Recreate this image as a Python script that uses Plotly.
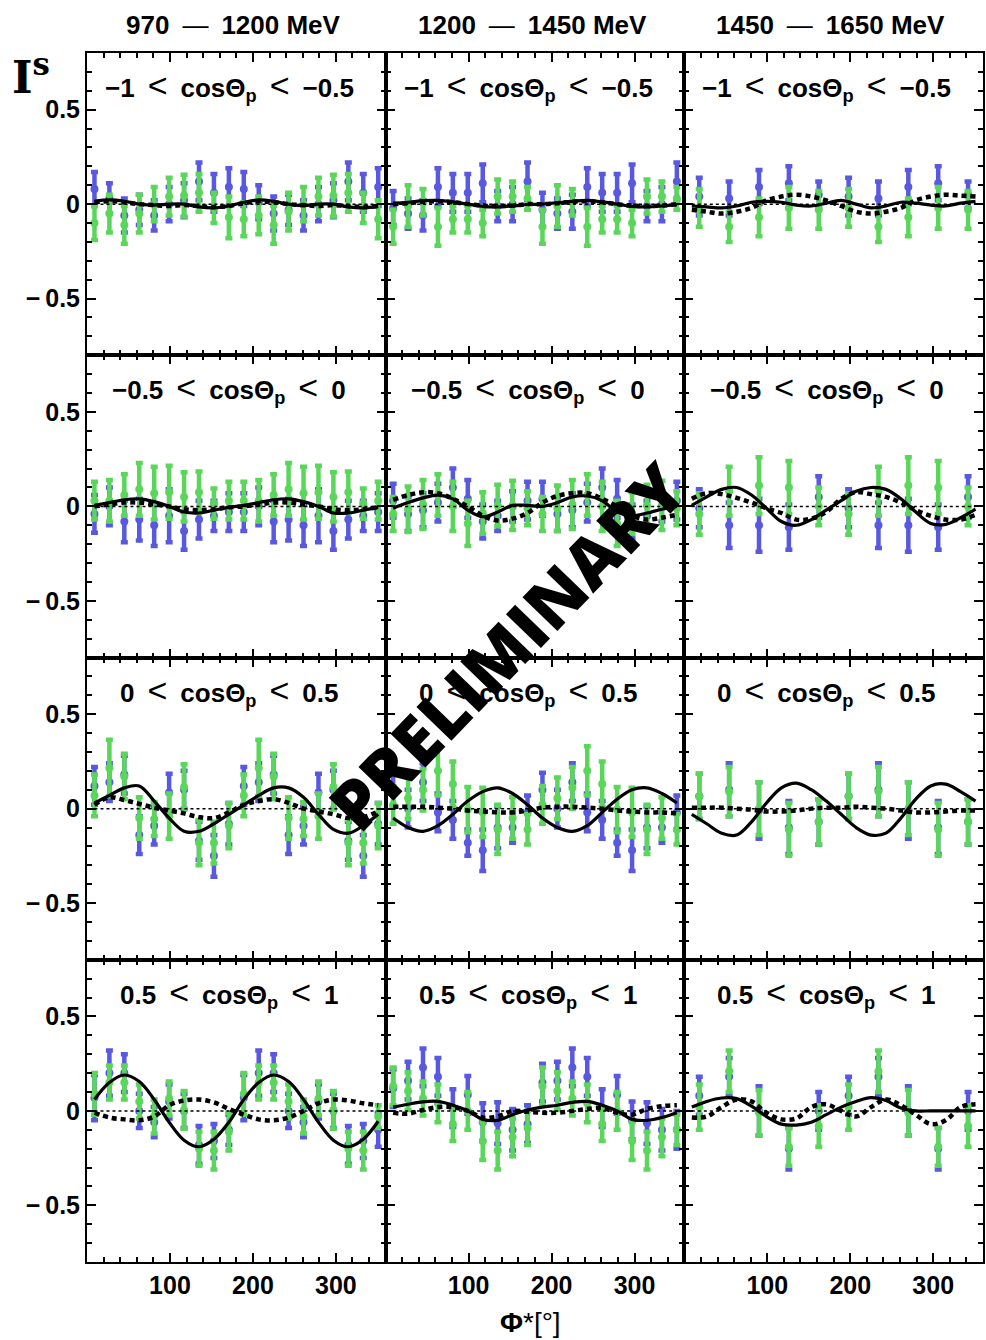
import plotly.graph_objects as go
from plotly.subplots import make_subplots

# ---------------- data ----------------
PHI20 = [9, 27, 45, 63, 81, 99, 117, 135, 153, 171, 189, 207, 225, 243, 261, 279, 297, 315, 333, 351]
PHI10 = [18, 54, 90, 126, 162, 198, 234, 270, 306, 342]
CURVE_PHI = [9, 27, 45, 63, 81, 99, 117, 135, 153, 171, 189, 207, 225, 243, 261, 279, 297, 315, 333, 351]

SP = "\u2002"
LT = '<span style="font-size:34px;font-weight:normal">&lt;</span>'
DASH = '<span style="font-weight:normal">—</span>'
ENERGY_BINS = ["970" + SP + DASH + SP + "1200 MeV", "1200" + SP + DASH + SP + "1450 MeV", "1450" + SP + DASH + SP + "1650 MeV"]
COS_BINS = ["−1" + SP + LT + SP + "cosΘ<sub>p</sub>" + SP + LT + SP + "−0.5",
            "−0.5" + SP + LT + SP + "cosΘ<sub>p</sub>" + SP + LT + SP + "0",
            "0" + SP + LT + SP + "cosΘ<sub>p</sub>" + SP + LT + SP + "0.5",
            "0.5" + SP + LT + SP + "cosΘ<sub>p</sub>" + SP + LT + SP + "1"]
Y_TICKS = [-0.5, 0, 0.5]
Y_TICKTEXT = ["−\u20090.5", "0", "0.5"]
X_TICKS = [100, 200, 300]

# row 1: -1 < cos < -0.5
r1c1_blue = [0.08, 0.03, -0.06, -0.03, -0.06, 0.00, 0.02, 0.12, 0.06, 0.09, 0.08, 0.01, -0.05, -0.03, -0.06, 0.00, 0.02, 0.12, 0.06, 0.09]
r1c1_blue_err = [0.09, 0.08, 0.09, 0.08, 0.08, 0.09, 0.09, 0.10, 0.10, 0.10, 0.09, 0.09, 0.09, 0.08, 0.08, 0.09, 0.09, 0.10, 0.10, 0.10]
r1c1_green = [-0.10, -0.05, -0.11, -0.05, 0.00, 0.04, 0.045, 0.06, -0.02, -0.07, -0.08, -0.06, -0.11, -0.04, 0.00, 0.04, 0.045, 0.06, -0.02, -0.08]
r1c1_green_err = [0.09, 0.10, 0.10, 0.10, 0.09, 0.10, 0.11, 0.10, 0.08, 0.11, 0.09, 0.10, 0.10, 0.10, 0.09, 0.10, 0.11, 0.10, 0.08, 0.10]
r1c1_solid = [0.015, 0.022, 0.015, 0.0, -0.005, 0.0, 0.0, -0.015, -0.02, -0.01, 0.01, 0.022, 0.015, 0.0, -0.008, 0.0, 0.0, -0.015, -0.02, -0.012]
r1c1_dotted = [0.01, 0.015, 0.01, 0.0, -0.005, -0.01, -0.005, -0.01, -0.015, -0.01, 0.005, 0.015, 0.01, 0.0, -0.005, -0.01, -0.005, -0.01, -0.015, -0.01]

r1c2_blue = [-0.02, -0.05, -0.06, 0.09, 0.06, 0.06, 0.11, -0.01, 0.00, 0.12, -0.03, -0.05, -0.04, 0.09, 0.06, 0.06, 0.11, -0.01, 0.00, 0.12]
r1c2_blue_err = [0.09, 0.08, 0.08, 0.10, 0.10, 0.10, 0.10, 0.08, 0.09, 0.10, 0.09, 0.08, 0.09, 0.10, 0.10, 0.10, 0.10, 0.08, 0.09, 0.10]
r1c2_green = [-0.12, -0.01, 0.01, -0.12, -0.08, -0.08, -0.10, 0.04, 0.04, 0.03, -0.12, -0.01, 0.01, -0.12, -0.08, -0.08, -0.10, 0.04, 0.04, 0.03]
r1c2_green_err = [0.09, 0.11, 0.07, 0.10, 0.07, 0.07, 0.07, 0.09, 0.08, 0.06, 0.09, 0.11, 0.07, 0.10, 0.07, 0.07, 0.07, 0.09, 0.08, 0.06]
r1c2_solid = [0.005, 0.01, 0.018, 0.02, 0.012, 0.0, -0.012, -0.015, -0.01, -0.002, 0.0, 0.008, 0.015, 0.02, 0.012, 0.0, -0.012, -0.015, -0.01, -0.003]
r1c2_dotted = [0.0, 0.005, 0.012, 0.015, 0.01, 0.0, -0.008, -0.01, -0.008, 0.0, 0.0, 0.005, 0.012, 0.015, 0.01, 0.0, -0.008, -0.01, -0.008, 0.0]

r1c3_blue = [0.04, 0.03, 0.09, 0.11, 0.05, 0.04, 0.03, 0.09, 0.11, 0.05]
r1c3_blue_err = [0.10, 0.09, 0.09, 0.09, 0.07, 0.10, 0.09, 0.09, 0.09, 0.07]
r1c3_green = [-0.02, -0.12, -0.07, -0.02, -0.03, -0.02, -0.12, -0.07, -0.02, -0.03]
r1c3_green_err = [0.10, 0.08, 0.10, 0.11, 0.10, 0.10, 0.08, 0.10, 0.11, 0.10]
r1c3_solid = [-0.01, -0.015, -0.02, -0.01, 0.01, 0.015, 0.01, -0.005, -0.01, 0.005, 0.02, 0.0, -0.02, -0.01, 0.01, 0.005, -0.005, -0.01, 0.005, 0.015]
r1c3_dotted = [-0.03, -0.04, -0.05, -0.04, -0.02, 0.02, 0.04, 0.05, 0.04, 0.02, -0.01, -0.04, -0.05, -0.04, -0.02, 0.02, 0.04, 0.05, 0.045, 0.04]

# row 2: -0.5 < cos < 0
r2c1_blue = [-0.04, 0.00, -0.08, -0.07, -0.10, -0.05, -0.13, -0.07, -0.05, -0.03, -0.03, 0.00, -0.08, -0.07, -0.10, -0.05, -0.13, -0.07, -0.05, -0.03]
r2c1_blue_err = [0.10, 0.10, 0.11, 0.11, 0.11, 0.14, 0.10, 0.10, 0.08, 0.10, 0.10, 0.10, 0.11, 0.11, 0.11, 0.14, 0.10, 0.10, 0.08, 0.10]
r2c1_green = [0.03, 0.03, 0.06, 0.09, 0.07, 0.075, 0.05, 0.075, 0.015, 0.03, 0.03, 0.03, 0.06, 0.09, 0.07, 0.075, 0.05, 0.075, 0.015, 0.03]
r2c1_green_err = [0.10, 0.11, 0.11, 0.14, 0.14, 0.14, 0.13, 0.11, 0.08, 0.10, 0.10, 0.11, 0.11, 0.14, 0.14, 0.14, 0.13, 0.11, 0.08, 0.10]
r2c1_solid = [0.005, 0.02, 0.035, 0.04, 0.025, 0.0, -0.03, -0.035, -0.02, -0.005, 0.005, 0.02, 0.035, 0.04, 0.025, 0.0, -0.035, -0.035, -0.02, -0.005]
r2c1_dotted = [0.0, 0.01, 0.02, 0.02, 0.01, 0.0, -0.015, -0.02, -0.015, -0.005, 0.0, 0.01, 0.02, 0.02, 0.01, 0.0, -0.015, -0.02, -0.015, -0.005]

r2c2_blue = [0.03, -0.04, -0.02, 0.02, 0.10, 0.04, -0.08, -0.05, 0.00, 0.03, 0.04, -0.04, -0.02, 0.02, 0.10, 0.04, -0.08, -0.05, 0.00, 0.03]
r2c2_blue_err = [0.09, 0.09, 0.09, 0.10, 0.10, 0.10, 0.09, 0.08, 0.08, 0.10, 0.09, 0.09, 0.09, 0.10, 0.10, 0.10, 0.09, 0.08, 0.08, 0.10]
r2c2_green = [-0.04, -0.015, 0.01, 0.06, 0.00, -0.09, -0.035, 0.005, 0.005, -0.01, -0.04, -0.01, 0.01, 0.06, 0.00, -0.09, -0.035, 0.005, 0.005, -0.01]
r2c2_green_err = [0.09, 0.12, 0.13, 0.11, 0.13, 0.12, 0.11, 0.11, 0.13, 0.09, 0.09, 0.12, 0.13, 0.11, 0.13, 0.12, 0.11, 0.11, 0.13, 0.09]
r2c2_solid = [-0.01, 0.02, 0.045, 0.06, 0.04, -0.02, -0.055, -0.03, 0.005, 0.005, 0.0, 0.02, 0.05, 0.055, 0.03, -0.03, -0.05, -0.035, -0.015, 0.0]
r2c2_dotted = [0.035, 0.06, 0.075, 0.07, 0.04, 0.0, -0.05, -0.075, -0.065, -0.035, 0.02, 0.055, 0.07, 0.07, 0.04, 0.0, -0.05, -0.07, -0.06, -0.045]

r2c3_blue = [-0.01, -0.10, -0.10, -0.11, 0.05, -0.01, -0.10, -0.10, -0.11, 0.05]
r2c3_blue_err = [0.10, 0.12, 0.14, 0.12, 0.11, 0.10, 0.12, 0.14, 0.12, 0.11]
r2c3_green = [-0.04, 0.08, 0.11, 0.10, 0.00, -0.04, 0.08, 0.11, 0.10, 0.00]
r2c3_green_err = [0.11, 0.13, 0.15, 0.14, 0.10, 0.11, 0.13, 0.15, 0.14, 0.10]
r2c3_solid = [0.005, 0.05, 0.09, 0.10, 0.06, -0.01, -0.08, -0.10, -0.07, -0.02, 0.03, 0.08, 0.10, 0.09, 0.04, -0.03, -0.09, -0.095, -0.06, -0.015]
r2c3_dotted = [0.04, 0.07, 0.065, 0.045, 0.02, -0.01, -0.035, -0.07, -0.065, -0.03, 0.04, 0.075, 0.065, 0.05, 0.02, -0.02, -0.05, -0.07, -0.07, -0.045]

# row 3: 0 < cos < 0.5
r3c1_blue = [0.12, 0.14, 0.18, -0.14, -0.09, 0.085, 0.10, -0.17, -0.25, -0.08, 0.12, 0.14, 0.18, -0.14, -0.09, 0.085, 0.10, -0.17, -0.25, -0.08]
r3c1_blue_err = [0.10, 0.10, 0.10, 0.10, 0.10, 0.10, 0.10, 0.10, 0.11, 0.11, 0.10, 0.10, 0.10, 0.10, 0.10, 0.10, 0.10, 0.10, 0.11, 0.11]
r3c1_green = [0.07, 0.215, 0.17, -0.05, -0.055, -0.04, 0.115, -0.18, -0.18, -0.09, 0.07, 0.215, 0.17, -0.05, -0.055, -0.04, 0.115, -0.18, -0.18, -0.09]
r3c1_green_err = [0.11, 0.15, 0.12, 0.11, 0.09, 0.12, 0.12, 0.12, 0.11, 0.12, 0.11, 0.15, 0.12, 0.11, 0.09, 0.12, 0.12, 0.12, 0.11, 0.12]
r3c1_solid = [0.03, 0.07, 0.11, 0.12, 0.04, -0.05, -0.12, -0.12, -0.08, -0.03, 0.02, 0.07, 0.11, 0.11, 0.06, -0.03, -0.11, -0.13, -0.09, -0.03]
r3c1_dotted = [0.02, 0.06, 0.045, 0.025, 0.005, -0.01, -0.025, -0.045, -0.05, -0.02, 0.02, 0.04, 0.05, 0.03, 0.0, -0.015, -0.03, -0.05, -0.045, -0.015]

r3c2_blue = [0.10, 0.00, 0.14, -0.02, -0.06, -0.18, -0.22, -0.10, -0.10, -0.02, 0.10, 0.00, 0.14, -0.02, -0.06, -0.18, -0.22, -0.10, -0.10, -0.02]
r3c2_blue_err = [0.09, 0.10, 0.10, 0.10, 0.10, 0.07, 0.11, 0.11, 0.08, 0.09, 0.09, 0.10, 0.10, 0.10, 0.10, 0.07, 0.11, 0.11, 0.08, 0.09]
r3c2_green = [0.02, 0.055, 0.10, 0.20, 0.13, -0.005, -0.02, -0.11, -0.05, -0.11, 0.02, 0.055, 0.11, 0.20, 0.13, -0.005, -0.02, -0.11, -0.05, -0.11]
r3c2_green_err = [0.10, 0.11, 0.11, 0.13, 0.12, 0.12, 0.13, 0.13, 0.11, 0.08, 0.10, 0.11, 0.11, 0.13, 0.12, 0.12, 0.13, 0.13, 0.11, 0.08]
r3c2_solid = [-0.05, -0.10, -0.12, -0.09, -0.03, 0.04, 0.09, 0.11, 0.08, 0.02, -0.05, -0.10, -0.12, -0.09, -0.02, 0.05, 0.10, 0.11, 0.08, 0.03]
r3c2_dotted = [0.01, 0.01, 0.01, 0.005, 0.0, -0.01, -0.015, -0.02, -0.02, -0.01, 0.005, 0.01, 0.01, 0.005, 0.0, -0.01, -0.015, -0.02, -0.02, -0.025]

r3c3_blue = [0.065, 0.10, -0.01, -0.10, -0.07, 0.065, 0.10, -0.01, -0.10, -0.07]
r3c3_blue_err = [0.12, 0.14, 0.15, 0.14, 0.12, 0.12, 0.14, 0.15, 0.14, 0.12]
r3c3_green = [0.065, 0.09, 0.00, -0.11, -0.07, 0.065, 0.09, 0.00, -0.11, -0.07]
r3c3_green_err = [0.12, 0.13, 0.14, 0.14, 0.12, 0.12, 0.13, 0.14, 0.14, 0.12]
r3c3_solid = [-0.03, -0.08, -0.13, -0.14, -0.07, 0.03, 0.11, 0.135, 0.10, 0.04, -0.03, -0.10, -0.14, -0.13, -0.05, 0.05, 0.12, 0.13, 0.09, 0.04]
r3c3_dotted = [0.005, 0.005, 0.005, 0.0, -0.005, -0.015, -0.015, -0.01, 0.0, 0.005, 0.005, 0.01, 0.005, 0.0, -0.01, -0.02, -0.02, -0.015, -0.01, -0.01]

# row 4: 0.5 < cos < 1
r4c1_blue = [0.07, 0.20, 0.20, 0.00, -0.06, 0.05, 0.00, -0.18, -0.16, -0.10, 0.07, 0.20, 0.20, 0.00, -0.06, 0.05, 0.00, -0.18, -0.16, -0.10]
r4c1_blue_err = [0.12, 0.12, 0.10, 0.09, 0.08, 0.09, 0.09, 0.10, 0.09, 0.08, 0.12, 0.12, 0.10, 0.09, 0.08, 0.09, 0.09, 0.10, 0.09, 0.09]
r4c1_green = [0.09, 0.15, 0.15, 0.05, -0.03, 0.065, 0.005, -0.20, -0.21, -0.11, 0.09, 0.15, 0.15, 0.05, -0.03, 0.065, 0.005, -0.20, -0.21, -0.03]
r4c1_green_err = [0.11, 0.09, 0.09, 0.09, 0.09, 0.09, 0.10, 0.09, 0.10, 0.10, 0.11, 0.09, 0.09, 0.09, 0.09, 0.09, 0.10, 0.09, 0.10, 0.06]
r4c1_solid = [0.06, 0.15, 0.19, 0.155, 0.06, -0.06, -0.155, -0.19, -0.15, -0.06, 0.06, 0.15, 0.19, 0.155, 0.06, -0.06, -0.155, -0.19, -0.15, -0.055]
r4c1_dotted = [-0.01, -0.035, -0.045, -0.05, -0.03, 0.03, 0.055, 0.06, 0.045, 0.01, -0.02, -0.045, -0.05, -0.035, 0.0, 0.04, 0.06, 0.055, 0.04, 0.03]

r4c2_blue = [0.12, 0.16, 0.23, 0.18, 0.015, 0.085, -0.06, -0.065, -0.10, -0.07, 0.15, 0.16, 0.23, 0.18, 0.015, 0.085, -0.05, -0.065, -0.10, -0.10]
r4c2_blue_err = [0.10, 0.10, 0.10, 0.10, 0.10, 0.10, 0.10, 0.11, 0.11, 0.10, 0.10, 0.10, 0.10, 0.10, 0.10, 0.10, 0.10, 0.11, 0.11, 0.10]
r4c2_green = [0.13, 0.105, 0.065, 0.04, -0.07, 0.00, -0.16, -0.21, -0.14, -0.09, 0.13, 0.105, 0.065, 0.04, -0.07, 0.00, -0.16, -0.21, -0.14, -0.10]
r4c2_green_err = [0.10, 0.10, 0.09, 0.10, 0.09, 0.10, 0.10, 0.10, 0.10, 0.09, 0.10, 0.10, 0.09, 0.10, 0.09, 0.10, 0.10, 0.10, 0.10, 0.08]
r4c2_solid = [0.02, 0.035, 0.048, 0.05, 0.03, 0.0, -0.045, -0.05, -0.02, 0.005, 0.02, 0.03, 0.045, 0.05, 0.03, 0.0, -0.045, -0.05, -0.035, -0.01]
r4c2_dotted = [-0.01, -0.015, 0.005, 0.02, 0.02, 0.0, -0.035, -0.03, 0.0, -0.005, -0.01, -0.01, 0.0, 0.01, 0.015, -0.01, -0.02, 0.01, 0.025, 0.03]

r4c3_blue = [0.08, 0.18, 0.00, -0.20, 0.00, 0.08, 0.18, 0.00, -0.20, 0.00]
r4c3_blue_err = [0.10, 0.10, 0.13, 0.11, 0.10, 0.10, 0.10, 0.13, 0.11, 0.10]
r4c3_green = [0.02, 0.21, -0.01, -0.19, -0.08, 0.02, 0.21, -0.01, -0.19, -0.08]
r4c3_green_err = [0.12, 0.11, 0.12, 0.10, 0.11, 0.12, 0.11, 0.12, 0.10, 0.11]
r4c3_solid = [0.02, 0.05, 0.068, 0.065, 0.025, -0.03, -0.07, -0.075, -0.06, -0.02, 0.02, 0.05, 0.07, 0.055, 0.015, 0.0, 0.0, 0.0, 0.0, 0.0]
r4c3_dotted = [-0.035, -0.03, 0.02, 0.06, 0.05, -0.01, -0.045, -0.04, 0.02, 0.035, 0.0, -0.03, 0.02, 0.06, 0.03, -0.02, -0.07, -0.05, 0.02, 0.035]

# ---------------- assembly ----------------
BLUE = [[r1c1_blue, r1c2_blue, r1c3_blue], [r2c1_blue, r2c2_blue, r2c3_blue],
        [r3c1_blue, r3c2_blue, r3c3_blue], [r4c1_blue, r4c2_blue, r4c3_blue]]
BLUE_ERR = [[r1c1_blue_err, r1c2_blue_err, r1c3_blue_err], [r2c1_blue_err, r2c2_blue_err, r2c3_blue_err],
            [r3c1_blue_err, r3c2_blue_err, r3c3_blue_err], [r4c1_blue_err, r4c2_blue_err, r4c3_blue_err]]
GREEN = [[r1c1_green, r1c2_green, r1c3_green], [r2c1_green, r2c2_green, r2c3_green],
         [r3c1_green, r3c2_green, r3c3_green], [r4c1_green, r4c2_green, r4c3_green]]
GREEN_ERR = [[r1c1_green_err, r1c2_green_err, r1c3_green_err], [r2c1_green_err, r2c2_green_err, r2c3_green_err],
             [r3c1_green_err, r3c2_green_err, r3c3_green_err], [r4c1_green_err, r4c2_green_err, r4c3_green_err]]
SOLID = [[r1c1_solid, r1c2_solid, r1c3_solid], [r2c1_solid, r2c2_solid, r2c3_solid],
         [r3c1_solid, r3c2_solid, r3c3_solid], [r4c1_solid, r4c2_solid, r4c3_solid]]
DOTTED = [[r1c1_dotted, r1c2_dotted, r1c3_dotted], [r2c1_dotted, r2c2_dotted, r2c3_dotted],
          [r3c1_dotted, r3c2_dotted, r3c3_dotted], [r4c1_dotted, r4c2_dotted, r4c3_dotted]]
PHI_BY_COL = [PHI20, PHI20, PHI10]

BLUE_C = "#5858e0"
GREEN_C = "#5ad65a"
FONT = "Liberation Sans"

fig = make_subplots(rows=4, cols=3, horizontal_spacing=0, vertical_spacing=0)

for r in range(4):
    for c in range(3):
        phi = PHI_BY_COL[c]
        fig.add_trace(go.Scatter(
            x=phi, y=BLUE[r][c], mode="markers",
            marker=dict(color=BLUE_C, size=8),
            error_y=dict(type="data", array=BLUE_ERR[r][c], color=BLUE_C, thickness=4.5, width=3.5),
            showlegend=False), row=r + 1, col=c + 1)
        fig.add_trace(go.Scatter(
            x=phi, y=GREEN[r][c], mode="markers",
            marker=dict(color=GREEN_C, size=8),
            error_y=dict(type="data", array=GREEN_ERR[r][c], color=GREEN_C, thickness=4.5, width=3.5),
            showlegend=False), row=r + 1, col=c + 1)
        fig.add_trace(go.Scatter(
            x=[CURVE_PHI[0], CURVE_PHI[-1]], y=[0, 0], mode="lines",
            line=dict(color="black", width=1.5, dash="dot"),
            showlegend=False), row=r + 1, col=c + 1)
        fig.add_trace(go.Scatter(
            x=CURVE_PHI, y=DOTTED[r][c], mode="lines", line_shape="spline",
            line=dict(color="black", width=4.5, dash="5px,4px"),
            showlegend=False), row=r + 1, col=c + 1)
        fig.add_trace(go.Scatter(
            x=CURVE_PHI, y=SOLID[r][c], mode="lines", line_shape="spline",
            line=dict(color="black", width=3.2),
            showlegend=False), row=r + 1, col=c + 1)

tickfont = dict(family=FONT, size=25, color="black", weight="bold")
for r in range(4):
    for c in range(3):
        fig.update_xaxes(
            range=[0, 360], tickmode="array", tickvals=X_TICKS,
            showticklabels=(r == 3), tickfont=tickfont,
            showline=True, linecolor="black", linewidth=2, mirror="allticks",
            ticks="inside", ticklen=9, tickwidth=2, tickcolor="black",
            minor=dict(tickmode="linear", tick0=0, dtick=20, ticks="inside", ticklen=5,
                       tickwidth=1.5, tickcolor="black", showgrid=False),
            showgrid=False, zeroline=False, row=r + 1, col=c + 1)
        fig.update_yaxes(
            range=[-0.8, 0.8], tickmode="array", tickvals=Y_TICKS, ticktext=Y_TICKTEXT,
            showticklabels=(c == 0), tickfont=tickfont,
            showline=True, linecolor="black", linewidth=2, mirror="allticks",
            ticks="inside", ticklen=9, tickwidth=2, tickcolor="black",
            minor=dict(tickmode="linear", tick0=0, dtick=0.1, ticks="inside", ticklen=5,
                       tickwidth=1.5, tickcolor="black", showgrid=False),
            showgrid=False, zeroline=False, row=r + 1, col=c + 1)

annotations = []
for c in range(3):
    axn = "" if c == 0 else str(c + 1)
    annotations.append(dict(text=ENERGY_BINS[c], xref=f"x{axn} domain", yref="paper",
                            x=0.49, y=1.023, showarrow=False, xanchor="center", yanchor="middle",
                            font=dict(family=FONT, size=26, color="black", weight="bold")))
for r in range(4):
    for c in range(3):
        idx = r * 3 + c + 1
        axn = "" if idx == 1 else str(idx)
        annotations.append(dict(text=COS_BINS[r], xref=f"x{axn} domain", yref=f"y{axn} domain",
                                x=0.477, y=0.89, showarrow=False, xanchor="center", yanchor="middle",
                                font=dict(family=FONT, size=26, color="black", weight="bold")))
annotations.append(dict(text="I<sup>s</sup>", xref="paper", yref="paper", x=-0.062, y=0.982,
                        showarrow=False, xanchor="center", yanchor="middle",
                        font=dict(family="DejaVu Serif", size=44, color="black", weight="bold")))
annotations.append(dict(text="<b>Φ</b>*[°]", xref="paper", yref="paper", x=0.495, y=-0.05,
                        showarrow=False, xanchor="center", yanchor="middle",
                        font=dict(family=FONT, size=28, color="black")))
annotations.append(dict(text="PRELIMINARY", xref="paper", yref="paper", x=0.468, y=0.51,
                        showarrow=False, textangle=-46, xanchor="center", yanchor="middle",
                        font=dict(family="Open Sans", size=68, color="black", weight=800)))

fig.update_layout(
    width=986, height=1340,
    margin=dict(l=87, r=1, t=53, b=78),
    paper_bgcolor="white", plot_bgcolor="white",
    annotations=annotations,
    showlegend=False,
)

fig.write_html("out.html")
